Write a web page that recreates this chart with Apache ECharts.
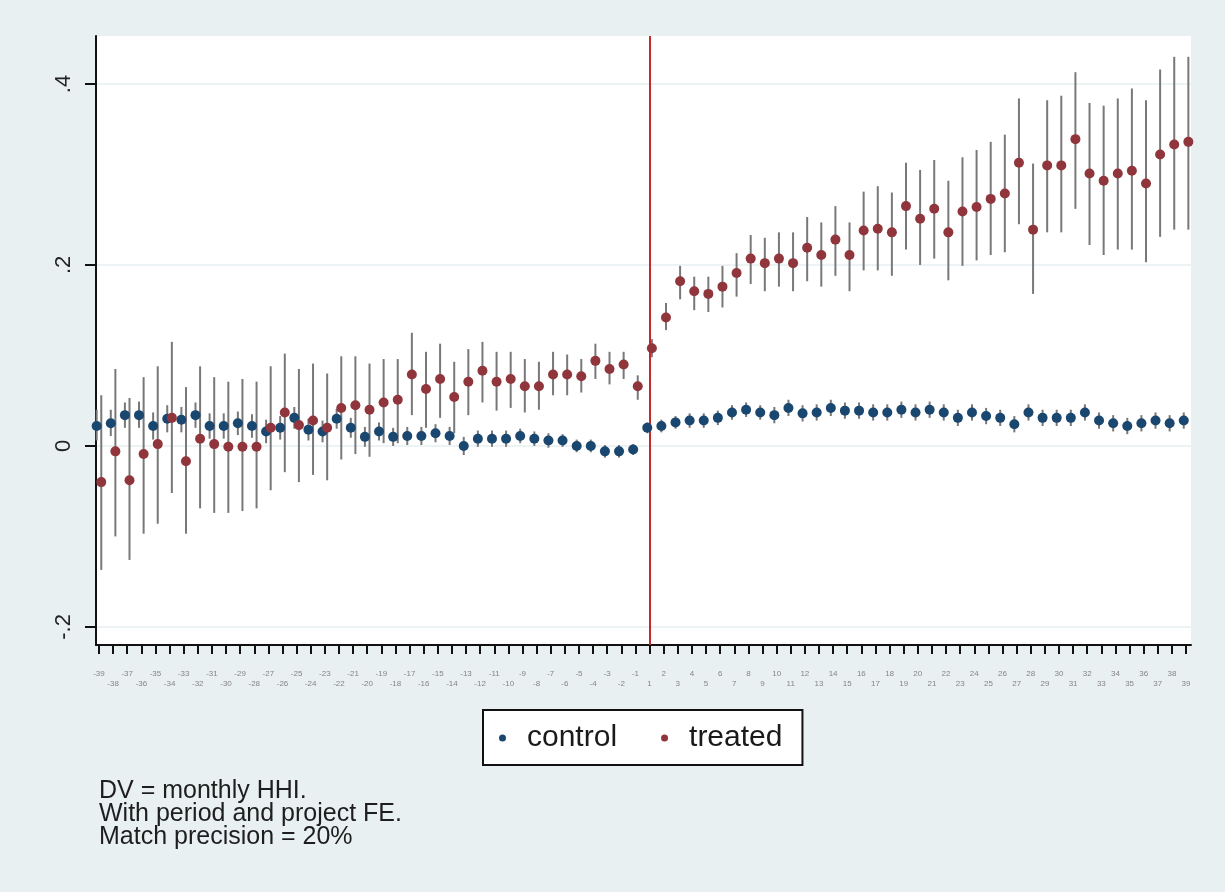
<!DOCTYPE html>
<html>
<head>
<meta charset="utf-8">
<script src="https://cdn.jsdelivr.net/npm/echarts@6/dist/echarts.min.js"></script>
<style>
  html, body { margin: 0; padding: 0; background: #e9f0f2; }
  #chart { width: 1225px; height: 892px; }
</style>
</head>
<body>
<div id="chart"></div>
<script>
// Event time (months relative to treatment); there is no period 0.
const periods = [
  -39, -38, -37, -36, -35, -34, -33, -32, -31, -30, -29, -28, -27, -26, -25, -24, -23, -22, -21, -20,
  -19, -18, -17, -16, -15, -14, -13, -12, -11, -10, -9, -8, -7, -6, -5, -4, -3, -2, -1,
  1, 2, 3, 4, 5, 6, 7, 8, 9, 10, 11, 12, 13, 14, 15, 16, 17, 18, 19, 20,
  21, 22, 23, 24, 25, 26, 27, 28, 29, 30, 31, 32, 33, 34, 35, 36, 37, 38, 39
];

// Control group: point estimates and 95% CI bounds
const controlCoef = [
  0.022, 0.025, 0.034, 0.034, 0.022, 0.030, 0.029, 0.034, 0.022, 0.022, 0.025, 0.022, 0.016, 0.020, 0.031, 0.018, 0.016, 0.030, 0.020, 0.010,
  0.016, 0.010, 0.011, 0.011, 0.014, 0.011, 0.000, 0.008, 0.008, 0.008, 0.011, 0.008, 0.006, 0.006, 0.000, 0.000, -0.006, -0.006, -0.004,
  0.020, 0.022, 0.026, 0.028, 0.028, 0.031, 0.037, 0.040, 0.037, 0.034, 0.042, 0.036, 0.037, 0.042, 0.039, 0.039, 0.037, 0.037, 0.040, 0.037,
  0.040, 0.037, 0.031, 0.037, 0.033, 0.031, 0.024, 0.037, 0.031, 0.031, 0.031, 0.037, 0.028, 0.025, 0.022, 0.025, 0.028, 0.025, 0.028
];
const controlHi = [
  0.040, 0.040, 0.048, 0.049, 0.037, 0.045, 0.043, 0.048, 0.036, 0.036, 0.038, 0.035, 0.029, 0.033, 0.043, 0.030, 0.028, 0.041, 0.031, 0.021,
  0.026, 0.020, 0.021, 0.021, 0.024, 0.021, 0.010, 0.017, 0.017, 0.017, 0.019, 0.016, 0.014, 0.013, 0.007, 0.007, 0.001, 0.001, 0.002,
  0.026, 0.029, 0.033, 0.036, 0.036, 0.039, 0.045, 0.048, 0.045, 0.043, 0.051, 0.045, 0.046, 0.051, 0.048, 0.048, 0.046, 0.046, 0.049, 0.046,
  0.049, 0.046, 0.040, 0.046, 0.042, 0.040, 0.033, 0.046, 0.040, 0.040, 0.040, 0.046, 0.037, 0.034, 0.031, 0.034, 0.037, 0.034, 0.037
];
const controlLo = [
  0.006, 0.011, 0.020, 0.020, 0.007, 0.015, 0.015, 0.020, 0.008, 0.008, 0.012, 0.009, 0.003, 0.007, 0.019, 0.006, 0.004, 0.019, 0.009, -0.001,
  0.006, 0.000, 0.001, 0.001, 0.004, 0.001, -0.010, -0.001, -0.001, -0.001, 0.003, 0.000, -0.002, -0.001, -0.007, -0.007, -0.013, -0.013, -0.010,
  0.014, 0.015, 0.019, 0.020, 0.020, 0.023, 0.029, 0.032, 0.029, 0.025, 0.033, 0.027, 0.028, 0.033, 0.030, 0.030, 0.028, 0.028, 0.031, 0.028,
  0.031, 0.028, 0.022, 0.028, 0.024, 0.022, 0.015, 0.028, 0.022, 0.022, 0.022, 0.028, 0.019, 0.016, 0.013, 0.016, 0.019, 0.016, 0.019
];

// Treated group: point estimates and 95% CI bounds
const treatedCoef = [
  -0.040, -0.006, -0.038, -0.009, 0.002, 0.031, -0.017, 0.008, 0.002, -0.001, -0.001, -0.001, 0.020, 0.037, 0.023, 0.028, 0.020, 0.042, 0.045, 0.040,
  0.048, 0.051, 0.079, 0.063, 0.074, 0.054, 0.071, 0.083, 0.071, 0.074, 0.066, 0.066, 0.079, 0.079, 0.077, 0.094, 0.085, 0.090, 0.066,
  0.108, 0.142, 0.182, 0.171, 0.168, 0.176, 0.191, 0.207, 0.202, 0.207, 0.202, 0.219, 0.211, 0.228, 0.211, 0.238, 0.240, 0.236, 0.265, 0.251,
  0.262, 0.236, 0.259, 0.264, 0.273, 0.279, 0.313, 0.239, 0.310, 0.310, 0.339, 0.301, 0.293, 0.301, 0.304, 0.290, 0.322, 0.333, 0.336
];
const treatedHi = [
  0.056, 0.085, 0.053, 0.076, 0.088, 0.115, 0.065, 0.088, 0.076, 0.071, 0.074, 0.071, 0.088, 0.102, 0.085, 0.091, 0.080, 0.099, 0.099, 0.091,
  0.096, 0.096, 0.125, 0.104, 0.113, 0.093, 0.107, 0.115, 0.104, 0.104, 0.096, 0.093, 0.104, 0.101, 0.096, 0.113, 0.104, 0.104, 0.078,
  0.118, 0.158, 0.199, 0.187, 0.187, 0.199, 0.213, 0.233, 0.230, 0.236, 0.236, 0.253, 0.247, 0.265, 0.247, 0.281, 0.287, 0.280, 0.313, 0.305,
  0.316, 0.293, 0.319, 0.327, 0.336, 0.344, 0.384, 0.312, 0.382, 0.387, 0.413, 0.379, 0.376, 0.384, 0.395, 0.382, 0.416, 0.430, 0.430
];
const treatedLo = [
  -0.137, -0.100, -0.126, -0.097, -0.086, -0.052, -0.097, -0.069, -0.074, -0.074, -0.072, -0.069, -0.049, -0.029, -0.040, -0.032, -0.038, -0.015, -0.009, -0.012,
  0.003, 0.003, 0.034, 0.020, 0.031, 0.014, 0.034, 0.048, 0.039, 0.042, 0.037, 0.040, 0.056, 0.056, 0.059, 0.074, 0.068, 0.074, 0.051,
  0.098, 0.128, 0.162, 0.150, 0.148, 0.153, 0.165, 0.179, 0.171, 0.176, 0.171, 0.182, 0.176, 0.188, 0.171, 0.194, 0.194, 0.188, 0.217, 0.200,
  0.207, 0.183, 0.199, 0.205, 0.211, 0.214, 0.245, 0.168, 0.236, 0.236, 0.262, 0.222, 0.211, 0.217, 0.217, 0.203, 0.231, 0.239, 0.239
];

const yTickValues = [-0.2, 0, 0.2, 0.4];
const yTickLabels = ['-.2', '0', '.2', '.4'];
const treatmentPeriod = 1;
const noteLines = ['DV = monthly HHI.', 'With period and project FE.', 'Match precision = 20%'];

const FONT = 'Liberation Sans, Arial, sans-serif';
const CONTROL_COLOR = '#1a476f';
const TREATED_COLOR = '#90353b';
const CI_COLOR = '#787878';
const CONTROL_SHIFT = -2.3;   // px, dodge the two groups apart
const TREATED_SHIFT = 2.3;

const idx = periods.map((_, i) => i);
const treatIdx = periods.indexOf(treatmentPeriod);

function ciRenderer(shift) {
  return function (params, api) {
    const top = api.coord([api.value(0), api.value(2)]);
    const bot = api.coord([api.value(0), api.value(1)]);
    return {
      type: 'line',
      shape: { x1: top[0] + shift, y1: top[1], x2: bot[0] + shift, y2: bot[1] },
      style: { stroke: CI_COLOR, lineWidth: 2 }
    };
  };
}

const chart = echarts.init(document.getElementById('chart'), null, { renderer: 'canvas' });

chart.setOption({
  backgroundColor: '#e9f0f2',
  animation: false,
  textStyle: { fontFamily: FONT },
  title: {
    text: noteLines.join('\n'),
    left: 99,
    top: 780,
    padding: 0,
    textStyle: { fontSize: 25, fontWeight: 'normal', color: '#1e1e1e', lineHeight: 23, fontFamily: FONT }
  },
  legend: {
    data: ['control', 'treated'],
    left: 483,
    top: 710,
    orient: 'horizontal',
    backgroundColor: '#ffffff',
    borderColor: '#111',
    borderWidth: 2,
    borderRadius: 0,
    padding: [13, 20, 12, 16],
    itemWidth: 7,
    itemHeight: 7,
    itemGap: 44,
    icon: 'circle',
    itemStyle: { opacity: 1 },
    textStyle: { fontSize: 30, color: '#1a1a1a', padding: [0, 0, 0, 16], fontFamily: FONT }
  },
  grid: {
    left: 96, right: 34, top: 36, bottom: 247,
    show: true, backgroundColor: '#ffffff', borderWidth: 0
  },
  xAxis: {
    type: 'value',
    min: -0.21,
    max: 77.35,
    axisLine: { show: true, onZero: false, lineStyle: { color: '#111', width: 2 } },
    axisTick: { show: true, customValues: idx, length: 9, lineStyle: { color: '#111', width: 2 } },
    axisLabel: {
      customValues: idx,
      fontSize: 8,
      lineHeight: 10,
      margin: 24,
      color: '#858585',
      formatter: function (v) {
        const i = Math.round(v);
        const t = String(periods[i]);
        return i % 2 === 0 ? t : '\n' + t;
      }
    },
    splitLine: { show: false }
  },
  yAxis: {
    type: 'value',
    min: -0.22,
    max: 0.453,
    axisLine: { show: true, onZero: false, lineStyle: { color: '#111', width: 2 } },
    axisTick: { show: true, customValues: yTickValues, length: 11, lineStyle: { color: '#111', width: 2 } },
    axisLabel: {
      customValues: yTickValues,
      rotate: 90,
      fontSize: 22,
      margin: 21,
      color: '#222',
      formatter: function (v) {
        const k = yTickValues.findIndex(t => Math.abs(t - v) < 1e-9);
        return k >= 0 ? yTickLabels[k] : '';
      }
    },
    splitLine: { show: true, lineStyle: { color: '#e7eef0', width: 1.5 } }
  },
  series: [
    {
      name: 'control CI',
      type: 'custom',
      z: 2,
      renderItem: ciRenderer(CONTROL_SHIFT),
      encode: { x: 0, y: [1, 2] },
      data: idx.map(i => [i, controlLo[i], controlHi[i]])
    },
    {
      name: 'treated CI',
      type: 'custom',
      z: 2,
      renderItem: ciRenderer(TREATED_SHIFT),
      encode: { x: 0, y: [1, 2] },
      data: idx.map(i => [i, treatedLo[i], treatedHi[i]]),
      markLine: {
        silent: true,
        z: 3,
        symbol: 'none',
        label: { show: false },
        lineStyle: { color: '#c22a2f', width: 2, type: 'solid' },
        data: [{ xAxis: treatIdx }]
      }
    },
    {
      name: 'control',
      type: 'scatter',
      z: 6,
      symbol: 'circle',
      symbolSize: 10,
      symbolOffset: [CONTROL_SHIFT, 0],
      itemStyle: { color: CONTROL_COLOR, opacity: 1 },
      data: idx.map(i => [i, controlCoef[i]])
    },
    {
      name: 'treated',
      type: 'scatter',
      z: 6,
      symbol: 'circle',
      symbolSize: 10,
      symbolOffset: [TREATED_SHIFT, 0],
      itemStyle: { color: TREATED_COLOR, opacity: 1 },
      data: idx.map(i => [i, treatedCoef[i]])
    }
  ]
});
</script>
</body>
</html>
